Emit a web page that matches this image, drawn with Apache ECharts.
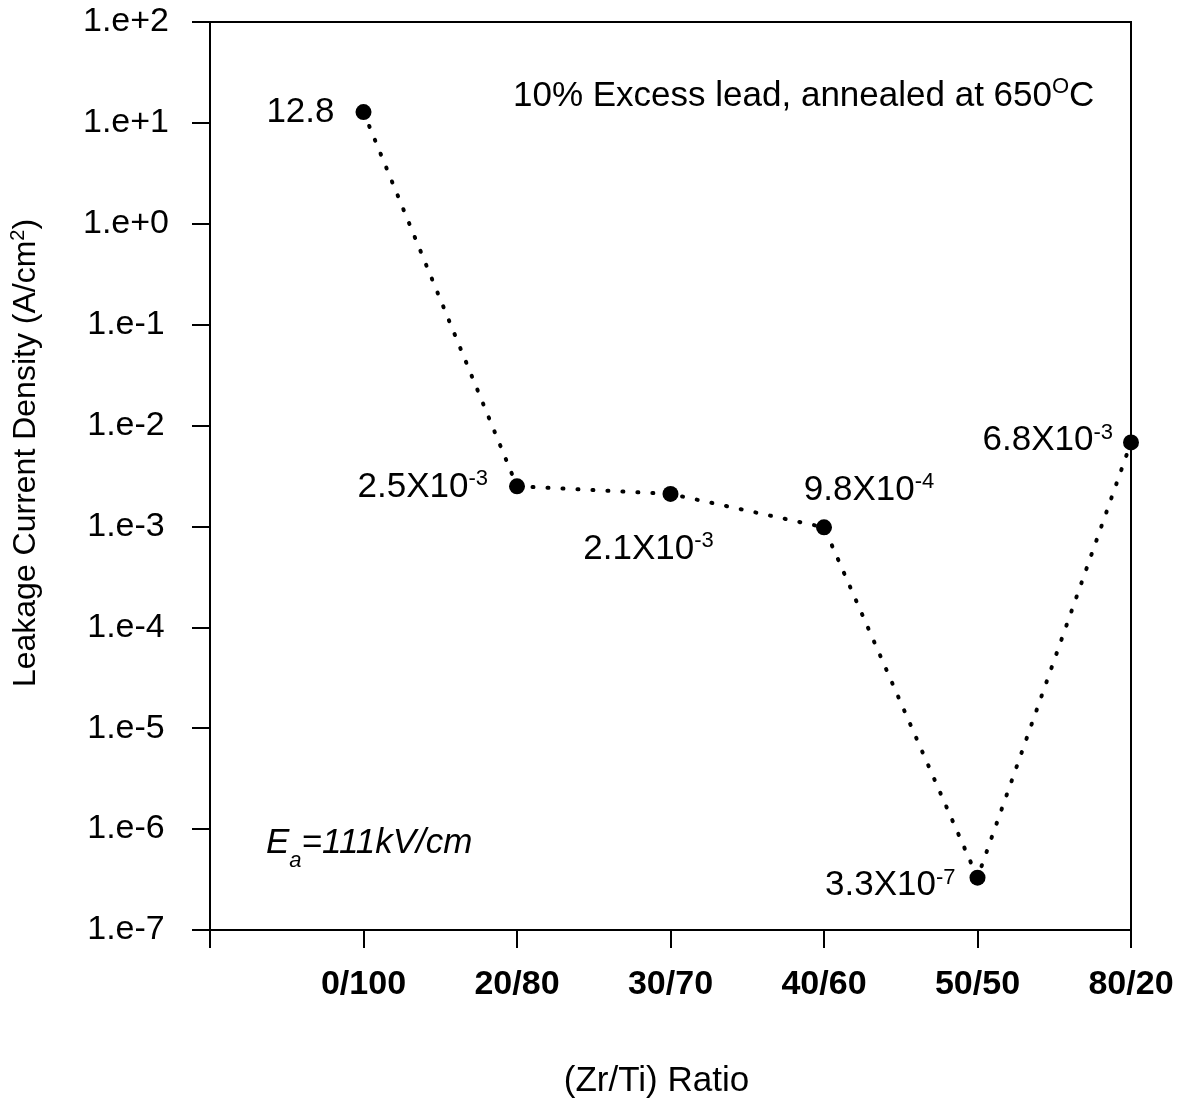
<!DOCTYPE html>
<html>
<head>
<meta charset="utf-8">
<script src="https://cdn.jsdelivr.net/npm/echarts@6/dist/echarts.min.js"></script>
<style>
  html, body { margin: 0; padding: 0; background: #fff; }
  #box { width: 1191px; height: 1104px; }
</style>
</head>
<body>
<div id="box"></div>
<script>
// 数据
var ratios = ['0/100', '20/80', '30/70', '40/60', '50/50', '80/20'];
var density = [12.8, 2.5e-3, 2.1e-3, 9.8e-4, 3.3e-7, 6.8e-3];
var pointLabels = ['12.8', '2.5X10{s|-3}', '2.1X10{s|-3}', '9.8X10{s|-4}', '3.3X10{s|-7}', '6.8X10{s|-3}'];

// 标签摆放位置
var labelPlace = [
    { position: 'left', distance: 21, offset: [0, 0] },
    { position: 'left', distance: 21, offset: [0, 1] },
    { position: 'bottom', distance: 28, offset: [-22, 0] },
    { position: 'top', distance: 10, offset: [45, 0] },
    { position: 'left', distance: 14, offset: [0, 8] },
    { position: 'left', distance: 10, offset: [0, -2] }
];

var font = 'Liberation Sans, Arial, sans-serif';
var myChart = echarts.init(document.getElementById('box'));

var seriesData = density.map(function (v, i) {
    var p = labelPlace[i];
    return {
        value: [i + 1, v],
        label: {
            show: true,
            position: p.position,
            distance: p.distance,
            offset: p.offset,
            formatter: pointLabels[i],
            color: '#000',
            fontFamily: font,
            fontSize: 35,
            lineHeight: 38,
            rich: {
                s: { fontSize: 22, fontFamily: font, color: '#000', verticalAlign: 'top', lineHeight: 20 }
            }
        }
    };
});

var option = {
    backgroundColor: '#fff',
    animation: false,
    grid: {
        left: 210, top: 22, right: 60, bottom: 174,
        show: true, borderColor: '#000', borderWidth: 2, backgroundColor: 'transparent'
    },
    xAxis: {
        type: 'value',
        min: 0, max: 6, interval: 1,
        name: '(Zr/Ti) Ratio',
        nameLocation: 'middle',
        nameGap: 134,
        nameTextStyle: { color: '#000', fontFamily: font, fontSize: 35, padding: [0, 28, 0, 0] },
        axisLine: { lineStyle: { color: '#000', width: 2 } },
        axisTick: { inside: false, length: 18, lineStyle: { color: '#000', width: 2 } },
        splitLine: { show: false },
        axisLabel: {
            margin: 38,
            color: '#000', fontFamily: font, fontSize: 34, fontWeight: 'bold',
            formatter: function (v) { return v >= 1 ? ratios[v - 1] : ''; }
        }
    },
    yAxis: {
        type: 'log',
        logBase: 10,
        min: 1e-7, max: 1e2,
        splitNumber: 9,
        name: '{n|Leakage Current Density (A/cm}{s|2}{n|)}',
        nameLocation: 'middle',
        nameGap: 166,
        nameTextStyle: {
            padding: [0, 0, 0, 46],
            rich: {
                n: { color: '#000', fontFamily: font, fontSize: 32, lineHeight: 36 },
                s: { color: '#000', fontFamily: font, fontSize: 20, verticalAlign: 'top', lineHeight: 20 }
            }
        },
        axisLine: { lineStyle: { color: '#000', width: 2 } },
        axisTick: { inside: false, length: 18, lineStyle: { color: '#000', width: 2 } },
        minorTick: { show: false },
        splitLine: { show: false },
        axisLabel: {
            margin: 84,
            align: 'center',
            color: '#000', fontFamily: font, fontSize: 34,
            formatter: function (v) {
                var e = Math.round(Math.log10(v));
                return '1.e' + (e < 0 ? '-' : '+') + Math.abs(e);
            }
        }
    },
    graphic: [
        {
            type: 'text',
            left: 513, top: 76,
            style: {
                text: '{n|10% Excess lead, annealed at 650}{s|O}{n|C}',
                rich: {
                    n: { fill: '#000', fontFamily: font, fontSize: 35, lineHeight: 40 },
                    s: { fill: '#000', fontFamily: font, fontSize: 22, verticalAlign: 'top', lineHeight: 20 }
                }
            }
        },
        {
            type: 'text',
            left: 266, top: 826,
            style: {
                text: '{n|E}{b|a}{n|=111kV/cm}',
                rich: {
                    n: { fill: '#000', fontFamily: font, fontSize: 35, fontStyle: 'italic', lineHeight: 46, verticalAlign: 'top' },
                    b: { fill: '#000', fontFamily: font, fontSize: 22, fontStyle: 'italic', lineHeight: 20, verticalAlign: 'bottom' }
                }
            }
        }
    ],
    series: [{
        type: 'line',
        data: seriesData,
        symbol: 'circle',
        symbolSize: 16,
        itemStyle: { color: '#000' },
        lineStyle: { color: '#000', width: 4, type: [1, 14], cap: 'round' }
    }]
};

myChart.setOption(option);
</script>
</body>
</html>
